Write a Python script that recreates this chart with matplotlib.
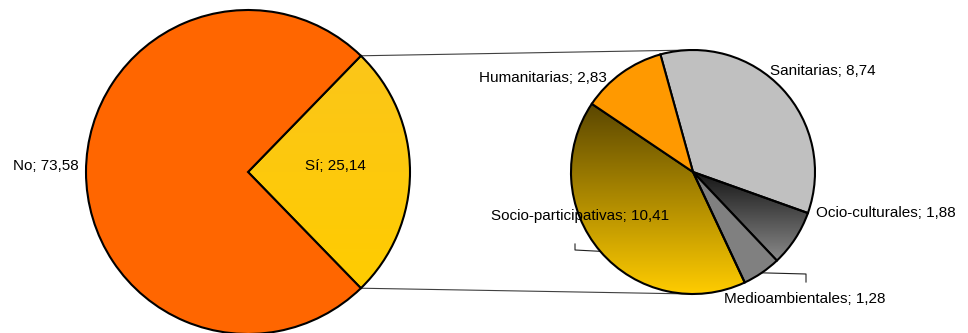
import numpy as np
import matplotlib
matplotlib.use("Agg")
import matplotlib.pyplot as plt
from matplotlib.colors import LinearSegmentedColormap

# ---- data ----
main_labels = ["Sí", "No"]
main_values = [25.14, 73.58]
main_colors = ["#FFCC00", "#FF6600"]

sub_labels = ["Sanitarias", "Ocio-culturales", "Medioambientales",
              "Socio-participativas", "Humanitarias"]
sub_values = [8.74, 1.88, 1.28, 10.41, 2.83]
sub_colors = ["#C0C0C0", "#808080", "#808080", "#FFCC00", "#FF9900"]

# gradients (top colour, bottom colour) for some wedges
main_grad = {"Sí": ("#FBC61A", "#FFCC00")}
sub_grad = {"Ocio-culturales": ("#151515", "#8A8A8A"),
            "Socio-participativas": ("#5A4600", "#FFCC00")}

W, H = 968, 333
plt.rcParams['font.family'] = ['Liberation Sans', 'DejaVu Sans']
fig = plt.figure(figsize=(W / 100, H / 100), dpi=100)
ax = fig.add_axes([0, 0, 1, 1])
ax.set_xlim(0, W)
ax.set_ylim(0, H)
ax.set_aspect('equal')
ax.axis('off')


def py(y):
    return H - y


c1 = (248, py(172)); r1 = 162
c2 = (693, py(172)); r2 = 122

tot1 = sum(main_values)
span_si = main_values[0] / tot1 * 360
w1, _ = ax.pie(main_values, colors=main_colors, center=c1, radius=r1,
               startangle=span_si / 2, counterclock=False,
               wedgeprops=dict(edgecolor='black', linewidth=1.5),
               frame=True)
w2, _ = ax.pie(sub_values, colors=sub_colors, center=c2, radius=r2,
               startangle=105.5, counterclock=False,
               wedgeprops=dict(edgecolor='black', linewidth=1.5),
               frame=True)
ax.set_xlim(0, W)
ax.set_ylim(0, H)
ax.axis('off')


def apply_grad(wedge, cols):
    cmap = LinearSegmentedColormap.from_list("g", [cols[1], cols[0]])
    bb = wedge.get_path().get_extents(wedge.get_patch_transform())
    grad = np.linspace(0, 1, 256).reshape(-1, 1)
    im = ax.imshow(grad, cmap=cmap, origin='lower', aspect='auto',
                   extent=[bb.x0, bb.x1, bb.y0, bb.y1], zorder=2,
                   interpolation='bilinear')
    im.set_clip_path(wedge)
    wedge.set_facecolor('none')


for w in list(w1) + list(w2):
    w.set_zorder(3)
for lab, w in zip(main_labels, w1):
    if lab in main_grad:
        apply_grad(w, main_grad[lab])
for lab, w in zip(sub_labels, w2):
    if lab in sub_grad:
        apply_grad(w, sub_grad[lab])
ax.set_xlim(0, W)
ax.set_ylim(0, H)

# connector lines
a = np.deg2rad(span_si / 2)
p_top = (c1[0] + r1 * np.cos(a), c1[1] + r1 * np.sin(a))
p_bot = (c1[0] + r1 * np.cos(-a), c1[1] + r1 * np.sin(-a))
ax.plot([p_top[0], c2[0]], [p_top[1], c2[1] + r2], color='#404040', lw=0.8, zorder=1)
ax.plot([p_bot[0], c2[0]], [p_bot[1], c2[1] - r2], color='#404040', lw=0.8, zorder=1)


def fmt(v):
    return f"{v:.2f}".replace('.', ',')


fs = 11
# main labels
ax.text(79, py(166), f"{main_labels[1]}; {fmt(main_values[1])}", ha='right', va='center', fontsize=fs)
ax.text(335, py(166), f"{main_labels[0]}; {fmt(main_values[0])}", ha='center', va='center', fontsize=fs)

# sub labels
pos = {
    "Sanitarias": (823, 71, 'center'),
    "Ocio-culturales": (816, 213, 'left'),
    "Medioambientales": (805, 299, 'center'),
    "Socio-participativas": (580, 216, 'center'),
    "Humanitarias": (543, 78, 'center'),
}
for lab, v in zip(sub_labels, sub_values):
    x, y, ha = pos[lab]
    ax.text(x, py(y), f"{lab}; {fmt(v)}", ha=ha, va='center', fontsize=fs, zorder=5)

# leader lines
ang = 105.5
mids = {}
for lab, v in zip(sub_labels, sub_values):
    d = v / sum(sub_values) * 360
    mids[lab] = ang - d / 2
    ang -= d
leaders = {"Socio-participativas": (575, 250, 244),
           "Medioambientales": (806, 274, 282)}
for lab, (lx, ly, ly2) in leaders.items():
    m = np.deg2rad(mids[lab])
    sx, sy = c2[0] + r2 * np.cos(m), c2[1] + r2 * np.sin(m)
    ax.plot([sx, lx, lx], [sy, py(ly), py(ly2)], color='#202020', lw=0.8, zorder=1)

fig.savefig("out.png", dpi=100)
